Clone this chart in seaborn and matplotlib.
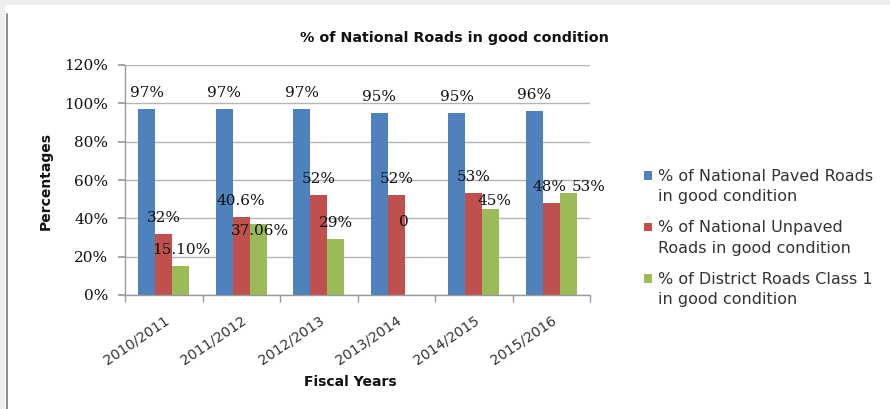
import matplotlib
matplotlib.use("Agg")
import matplotlib.pyplot as plt
from matplotlib.patches import Rectangle
from matplotlib.lines import Line2D
from matplotlib.legend_handler import HandlerPatch
import seaborn as sns
import pandas as pd
import numpy as np

# ---- data ----
years = ["2010/2011", "2011/2012", "2012/2013", "2013/2014", "2014/2015", "2015/2016"]
series_names = [
    "% of National Paved Roads\nin good condition",
    "% of National Unpaved\nRoads in good condition",
    "% of District Roads Class 1\nin good condition",
]
paved = [97, 97, 97, 95, 95, 96]
unpaved = [32, 40.6, 52, 52, 53, 48]
district = [15.1, 37.06, 29, 0, 45, 53]
label_paved = ["97%", "97%", "97%", "95%", "95%", "96%"]
label_unpaved = ["32%", "40.6%", "52%", "52%", "53%", "48%"]
label_district = ["15.10%", "37.06%", "29%", "0", "45%", "53%"]
yticks = [0, 20, 40, 60, 80, 100, 120]
ytick_labels = ["0%", "20%", "40%", "60%", "80%", "100%", "120%"]

# label offsets (pixels) relative to bar top centre – styling only
off_paved = [(0, 16)] * 6
off_unpaved = [(0, 16), (0, 16), (0, 16), (0, 16), (0, 16), (-2, 16)]
off_district = [(0, 16), (2, -7), (0, 16), (-9, 73), (4, 8), (20, 6)]

colors = ["#4F81BD", "#C0504D", "#9BBB59"]

df = pd.DataFrame({
    "year": years * 3,
    "series": np.repeat(series_names, len(years)),
    "value": paved + unpaved + district,
})

sns.set_theme(style="white")
plt.rcParams["font.family"] = ["DejaVu Sans"]

fig = plt.figure(figsize=(8.9, 4.09), dpi=100)
fig.patch.set_facecolor("white")
# outer frame decorations
fig.patches.append(Rectangle((0, 1 - 5 / 409), 1, 5 / 409, transform=fig.transFigure,
                             facecolor="#eeeeee", edgecolor="none", zorder=0))
fig.patches.append(Rectangle((0, 0), 5 / 890, 1, transform=fig.transFigure,
                             facecolor="#eeeeee", edgecolor="none", zorder=0))
fig.lines.append(Line2D([6.5 / 890, 6.5 / 890], [0, 1 - 14 / 409], transform=fig.transFigure,
                        color="#777777", lw=1.2))

ax = fig.add_axes([125 / 890, 1 - 295 / 409, 465 / 890, 230 / 409])
sns.barplot(data=df, x="year", y="value", hue="series", palette=colors,
            width=0.66, saturation=1, ax=ax, legend=True, linewidth=0, edgecolor="none")

ax.set_ylim(0, 120)
ax.set_xlim(-0.5, len(years) - 0.5)
ax.set_yticks(yticks)
ax.set_yticklabels(ytick_labels, family="DejaVu Serif", fontsize=11, color="#111111")
ax.yaxis.grid(True, color="#b5b5b5", lw=1)
ax.set_axisbelow(True)
for s in ["top", "right"]:
    ax.spines[s].set_visible(False)
for s in ["left", "bottom"]:
    ax.spines[s].set_color("#9a9a9a")
    ax.spines[s].set_linewidth(1)
ax.tick_params(axis="y", which="major", length=5, color="#9a9a9a", left=True, pad=7)
ax.set_xticks(np.arange(len(years) + 1) - 0.5, minor=True)
ax.tick_params(axis="x", which="minor", length=5, color="#9a9a9a", bottom=True)
ax.tick_params(axis="x", which="major", length=0, pad=13)
ax.set_xticklabels(years, rotation=34, ha="right", rotation_mode="anchor",
                   fontsize=10.2, color="#333333")
ax.set_xlabel("")
ax.set_ylabel("")

fig.text(350 / 890, 1 - 382 / 409, "Fiscal Years", ha="center", va="center",
         fontweight="bold", fontsize=10, color="#111111")
fig.text(46 / 890, 1 - 181 / 409, "Percentages", ha="center", va="center",
         rotation=90, fontweight="bold", fontsize=10, color="#111111")
fig.text(454 / 890, 1 - 38 / 409, "% of National Roads in good condition",
         ha="center", va="center", fontweight="bold", fontsize=10.3, color="#111111")

labels = [label_paved, label_unpaved, label_district]
offs = [off_paved, off_unpaved, off_district]
for cont, labs, off in zip(ax.containers, labels, offs):
    for bar, lab, (dx, dy) in zip(cont, labs, off):
        ax.annotate(lab, (bar.get_x() + bar.get_width() / 2, bar.get_height()),
                    xytext=(dx, dy), textcoords="offset pixels", ha="center", va="center",
                    family="DejaVu Serif", fontsize=11, color="#111111",
                    annotation_clip=False)


def square(legend, orig_handle, xdescent, ydescent, width, height, fontsize):
    s = 6.0
    return Rectangle((-xdescent + (width - s) / 2,
                      -ydescent + (height - s) / 2 + 0.72 * fontsize), s, s)


handles, labs = ax.get_legend_handles_labels()
leg = ax.legend(handles, labs, loc="upper left", bbox_to_anchor=(643 / 890, 1 - 169 / 409),
                bbox_transform=fig.transFigure, frameon=False, fontsize=11.5,
                handlelength=0.6, handleheight=0.7, handletextpad=0.35,
                labelspacing=1.0, borderaxespad=0, borderpad=0,
                handler_map={h: HandlerPatch(patch_func=square) for h in handles})
for t in leg.get_texts():
    t.set_color("#333333")
    t.set_linespacing(1.45)

fig.savefig("out.png", dpi=100, facecolor="white")
